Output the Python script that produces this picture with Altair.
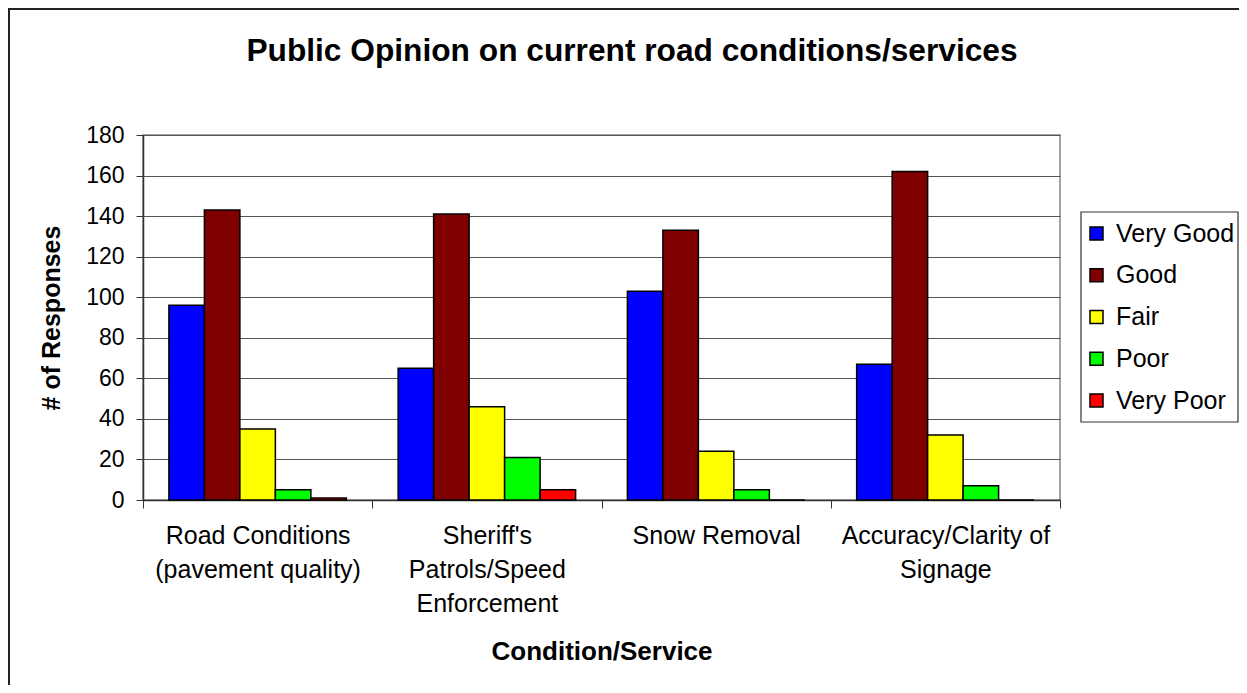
import altair as alt
import pandas as pd

categories = [
    "Road Conditions\n(pavement quality)",
    "Sheriff's\nPatrols/Speed\nEnforcement",
    "Snow Removal",
    "Accuracy/Clarity of\nSignage",
]
ratings = ["Very Good", "Good", "Fair", "Poor", "Very Poor"]
very_good = [96, 65, 103, 67]
good = [143, 141, 133, 162]
fair = [35, 46, 24, 32]
poor = [5, 21, 5, 7]
very_poor = [1, 5, 0, 0]
colors = ["#0000FF", "#800000", "#FFFF00", "#00FF00", "#FF0000"]
title_text = "Public Opinion on current road conditions/services"

series = [very_good, good, fair, poor, very_poor]
rows = []
for r, vals in zip(ratings, series):
    for c, v in zip(categories, vals):
        rows.append({"category": c, "rating": r, "value": v})
df = pd.DataFrame(rows)

FONT = "Liberation Sans"

bars = alt.Chart(df).mark_bar(stroke="black", strokeWidth=1.5).encode(
    x=alt.X(
        "category:N",
        sort=categories,
        scale=alt.Scale(paddingInner=0, paddingOuter=0),
        axis=alt.Axis(
            title="Condition/Service",
            labelAngle=0,
            labelExpr="split(datum.label, '\\n')",
            labelLineHeight=34,
            labelFontSize=25,
            labelLimit=400,
            labelPadding=15,
            tickBand="extent",
            tickSize=8,
            titlePadding=22,
            titleFontSize=26,
            grid=False,
        ),
    ),
    xOffset=alt.XOffset(
        "rating:N", sort=ratings, scale=alt.Scale(paddingOuter=0.73, paddingInner=0)
    ),
    y=alt.Y(
        "value:Q",
        scale=alt.Scale(domain=[0, 180]),
        axis=alt.Axis(
            title="# of Responses",
            values=list(range(0, 181, 20)),
            labelFontSize=23,
            tickSize=7,
            labelPadding=12,
            titleFontSize=25,
            titlePadding=21,
            grid=True,
        ),
    ),
    color=alt.Color(
        "rating:N",
        sort=ratings,
        scale=alt.Scale(domain=ratings, range=colors),
        legend=alt.Legend(
            title=None,
            orient="none",
            legendX=941,
            legendY=86,
            padding=0,
            symbolType="square",
            symbolSize=169,
            symbolStrokeColor="black",
            symbolStrokeWidth=1.5,
            labelFontSize=25,
            labelFont=FONT,
            labelColor="black",
            labelOffset=7,
            rowPadding=15.75,
        ),
    ),
)

frame_data = alt.Data(values=[{"k": 1}])
left_border = alt.Chart(frame_data).mark_rule(color="#222222", strokeWidth=2).encode(
    x=alt.value(-134), y=alt.value(-127), y2=alt.value(560)
)
top_border = alt.Chart(frame_data).mark_rule(color="#222222", strokeWidth=2).encode(
    x=alt.value(-135), x2=alt.value(1100), y=alt.value(-126)
)
legend_box = alt.Chart(frame_data).mark_rect(
    fill="white", stroke="#333333", strokeWidth=1.2
).encode(
    x=alt.value(938), x2=alt.value(1095), y=alt.value(77), y2=alt.value(287)
)
title_mark = alt.Chart(frame_data).mark_text(
    font=FONT,
    fontSize=31.7,
    fontWeight="bold",
    color="black",
    align="center",
    baseline="alphabetic",
).encode(
    x=alt.value(489), y=alt.value(-74), text=alt.value(title_text)
)

chart = alt.layer(left_border, top_border, legend_box, bars, title_mark).properties(
    width=917,
    height=365,
    autosize=alt.AutoSizeParams(type="none"),
    padding={"left": 135, "top": 127, "right": 179, "bottom": 185},
).configure_axis(
    labelFont=FONT,
    titleFont=FONT,
    labelColor="black",
    titleColor="black",
    titleFontWeight="bold",
    domainColor="#333333",
    tickColor="#333333",
    gridColor="#555555",
    domainWidth=1.5,
).configure_view(
    stroke="#888888", strokeWidth=1.5
)

chart.save("out.html", embed_options={"renderer": "svg", "actions": False})
